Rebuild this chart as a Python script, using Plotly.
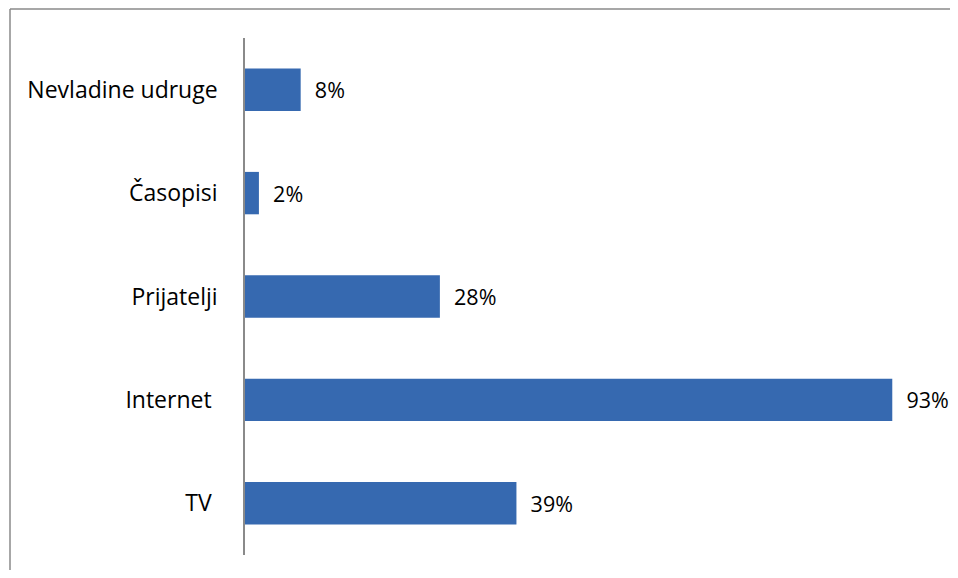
import plotly.graph_objects as go

categories = ["TV", "Internet", "Prijatelji", "Časopisi", "Nevladine udruge"]
tick_labels = ["TV ", "Internet ", "Prijatelji", "Časopisi", "Nevladine udruge"]
values = [39, 93, 28, 2, 8]
value_labels = ["\u00a0\u00a0" + f"{v}%" for v in values]

# page places the figure at an 8px body offset; keep page free of scrollbars
W, H = 942, 562
L, R, T, B = 237, 9, 30, 15
pw, ph = W - L - R, H - T - B

def px_x(x):
    return (x - L) / pw

def px_y(y):
    return (H - B - y) / ph

FONT = "Open Sans"
FS = 23

fig = go.Figure()
fig.add_trace(go.Bar(
    y=categories, x=values, orientation="h",
    marker=dict(color="#3669b0", line=dict(width=0)),
    width=0.41,
    text=value_labels, textposition="outside",
    textfont=dict(family=FONT, size=21.5, color="#000000"),
    constraintext="none", cliponaxis=False,
))

border = "#8a8a8a"
fig.add_shape(type="line", xref="paper", yref="paper",
              x0=px_x(2), x1=px_x(W + 5), y0=px_y(1), y1=px_y(1),
              line=dict(color=border, width=1.5))
fig.add_shape(type="line", xref="paper", yref="paper",
              x0=px_x(2), x1=px_x(2), y0=px_y(1), y1=px_y(H + 5),
              line=dict(color=border, width=1.5))

fig.update_layout(
    width=W, height=H,
    margin=dict(l=L, r=R, t=T, b=B),
    paper_bgcolor="white", plot_bgcolor="white",
    showlegend=False,
    font=dict(family=FONT, size=FS, color="#000000"),
    xaxis=dict(range=[0, 100], visible=False, showgrid=False, zeroline=False),
    yaxis=dict(
        type="category",
        categoryorder="array", categoryarray=categories,
        tickmode="array", tickvals=categories, ticktext=tick_labels,
        showline=True, linecolor=border, linewidth=1.5,
        ticks="", showgrid=False, zeroline=False,
        ticklabelstandoff=21,
        tickfont=dict(family=FONT, size=FS, color="#000000"),
    ),
)

fig.write_html("out.html")
